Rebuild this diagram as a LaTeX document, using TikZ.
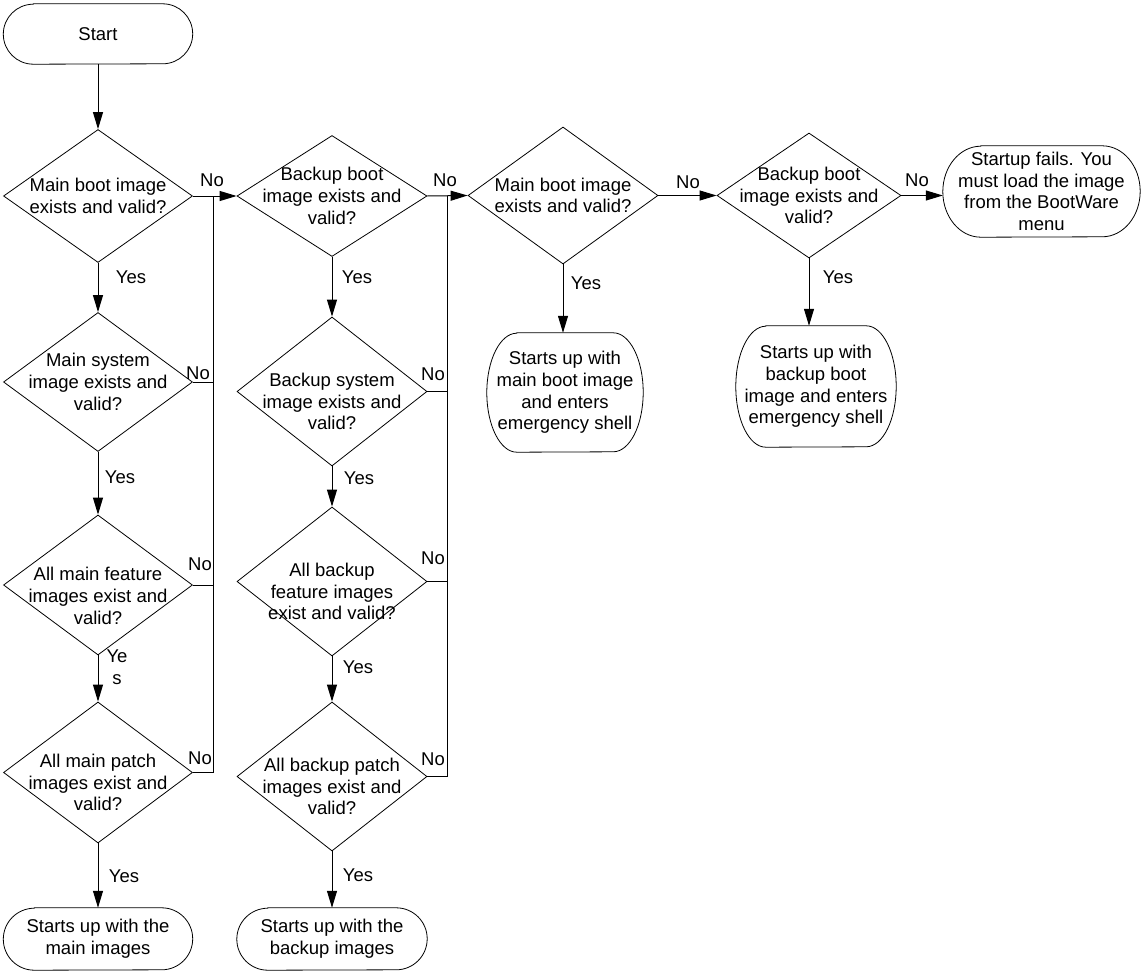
\documentclass[tikz,border=0pt]{standalone}
\usepackage{fontspec}
\setmainfont{Liberation Sans}
\usetikzlibrary{shapes.geometric,arrows.meta}
\newcommand\stad[3]{\draw[shapeline] ([xshift=#2pt]#1.north west) -- ([xshift=-#2pt]#1.north east) arc[start angle=90,end angle=-90,x radius=#2pt,y radius=#3pt] -- ([xshift=#2pt]#1.south west) arc[start angle=270,end angle=90,x radius=#2pt,y radius=#3pt] -- cycle;}
\begin{document}
\begin{tikzpicture}[x=1pt,y=-1pt,
  font=\fontsize{18.5}{21.7}\selectfont,
  shapeline/.style={draw=black, line width=0.8pt},
  dia/.style={shape=diamond, draw=black, line width=0.8pt, inner sep=0pt},
  term/.style={rectangle, inner sep=0pt, align=center},
  conn/.style={line width=1pt, draw=black},
  arr/.style={conn, -{Triangle[length=17pt,width=10pt]}},
  lbl/.style={inner sep=0pt, align=center}]
\useasboundingbox (0,0) rectangle (1144,974);

% column 1
\node[term, minimum width=189pt, minimum height=60pt] (start) at (98,34) {Start};
\stad{start}{30}{30}
\node[dia, minimum width=189pt, minimum height=133pt,
  label={[align=center]center:Main boot image\\exists and valid?}] (d1) at (98,196) {};
\node[dia, minimum width=189pt, minimum height=139pt,
  label={[align=center]center:Main system\\image exists and\\valid?}] (dms) at (98,382) {};
\node[dia, minimum width=189pt, minimum height=140pt,
  label={[align=center,yshift=-11pt]center:All main feature\\images exist and\\valid?}] (dmf) at (98,585) {};
\node[dia, minimum width=189pt, minimum height=141pt,
  label={[align=center,yshift=-10pt]center:All main patch\\images exist and\\valid?}] (dmp) at (98,772.5) {};
\node[term, minimum width=189pt, minimum height=62pt] (e1) at (98,939) {Starts up with the\\main images};
\stad{e1}{31}{31}

% column 2
\node[dia, minimum width=190pt, minimum height=121pt,
  label={[align=center]center:Backup boot\\image exists and\\valid?}] (d2) at (332,196) {};
\node[dia, minimum width=190pt, minimum height=149pt,
  label={[align=center,yshift=-10pt]center:Backup system\\image exists and\\valid?}] (dbs) at (332,391.5) {};
\node[dia, minimum width=190pt, minimum height=149pt,
  label={[align=center,yshift=-10pt]center:All backup\\feature images\\exist and valid?}] (dbf) at (332,581.5) {};
\node[dia, minimum width=190pt, minimum height=149pt,
  label={[align=center,yshift=-10pt]center:All backup patch\\images exist and\\valid?}] (dbp) at (332,776.5) {};
\node[term, minimum width=190pt, minimum height=62pt] (e2) at (332,939) {Starts up with the\\backup images};
\stad{e2}{31}{31}

% column 3 and 4
\node[dia, minimum width=190pt, minimum height=137pt,
  label={[align=center]center:Main boot image\\exists and valid?}] (d3) at (563,195.5) {};
\node[term, minimum width=156pt, minimum height=119pt] (s1) at (565,392.5) {Starts up with\\main boot image\\and enters\\emergency shell};
\stad{s1}{30}{59.5}
\node[dia, minimum width=184pt, minimum height=125pt,
  label={[align=center]center:Backup boot\\image exists and\\valid?}] (d4) at (809,195.5) {};
\node[term, minimum width=160pt, minimum height=121pt] (s2) at (816,386.5) {Starts up with\\backup boot\\image and enters\\emergency shell};
\stad{s2}{30}{60.5}
\node[term, minimum width=197pt, minimum height=91pt] (fail) at (1041.5,191.5) {Startup fails. You\\must load the image\\from the BootWare\\menu};
\stad{fail}{38}{45.5}

% junctions
\coordinate (j1) at (213,196);
\coordinate (j2) at (447,196);

% connectors
\draw[arr] (start.south) -- (d1.north);
\draw[arr] (d1.south) -- (dms.north);
\draw[arr] (dms.south) -- (dmf.north);
\draw[arr] (dmf.south) -- (dmp.north);
\draw[arr] (dmp.south) -- (e1.north);
\draw[arr] (d2.south) -- (dbs.north);
\draw[arr] (dbs.south) -- (dbf.north);
\draw[arr] (dbf.south) -- (dbp.north);
\draw[arr] (dbp.south) -- (e2.north);
\draw[arr] (d1.east) -- (d2.west);
\draw[arr] (d2.east) -- (d3.west);
\draw[arr] (d3.east) -- (d4.west);
\draw[arr] (d4.east) -- (d4.east -| fail.west);
\draw[arr] (d3.south) -- (d3.south |- s1.north);
\draw[arr] (d4.south) -- (d4.south |- s2.north);
\draw[conn] (dms.east) -- (dms.east -| j1);
\draw[conn] (dmf.east) -- (dmf.east -| j1);
\draw[conn] (dmp.east) -- (dmp.east -| j1) -- (j1);
\draw[conn] (dbs.east) -- (dbs.east -| j2);
\draw[conn] (dbf.east) -- (dbf.east -| j2);
\draw[conn] (dbp.east) -- (dbp.east -| j2) -- (j2);

% labels
\node[lbl] (n1) at (212,180) {No};
\node[lbl] (n2) at (445,180) {No};
\node[lbl] (n3) at (688,182) {No};
\node[lbl] (n4) at (917,180) {No};
\node[lbl] (n5) at (198,373) {No};
\node[lbl] (n6) at (200,564) {No};
\node[lbl] (n7) at (200,758) {No};
\node[lbl] (n8) at (433,374) {No};
\node[lbl] (n9) at (433,558) {No};
\node[lbl] (n10) at (433,759) {No};
\node[lbl] (y1) at (131,277) {Yes};
\node[lbl] (y2) at (120,477) {Yes};
\node[lbl] (y3) at (117,667) {Ye\\s};
\node[lbl] (y4) at (124,876) {Yes};
\node[lbl] (y5) at (357,277) {Yes};
\node[lbl] (y6) at (359,478) {Yes};
\node[lbl] (y7) at (358,667) {Yes};
\node[lbl] (y8) at (358,875) {Yes};
\node[lbl] (y9) at (586,283) {Yes};
\node[lbl] (y10) at (838,277) {Yes};
\end{tikzpicture}
\end{document}
